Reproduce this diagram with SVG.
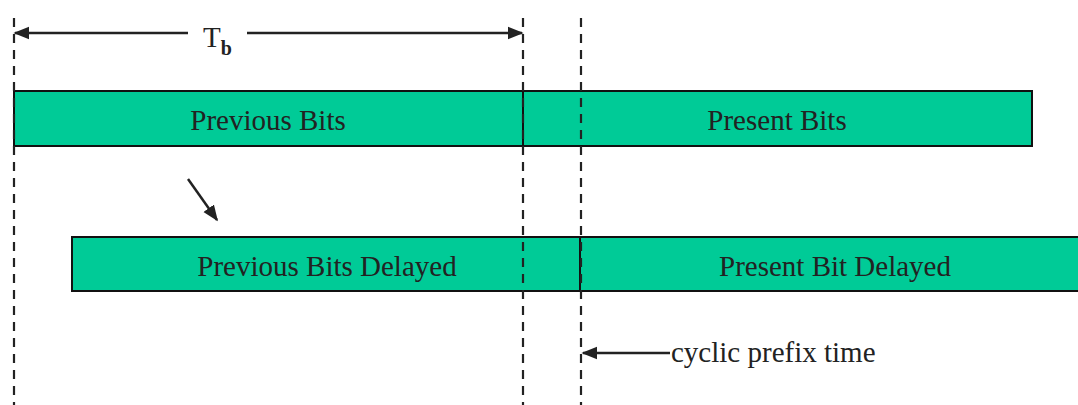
<svg xmlns="http://www.w3.org/2000/svg" width="1078" height="405" viewBox="0 0 1078 405">
<style>
.bar{fill:#00CB97;stroke:#111;stroke-width:2}
.div{stroke:#111;stroke-width:2}
.dash{stroke:#222;stroke-width:2.2;stroke-dasharray:9 7;fill:none}
.arr{stroke:#222;stroke-width:2.5;fill:none}
.lbl{font-family:"Liberation Serif",serif;font-size:29px;fill:#222;text-anchor:middle}
.t{font-family:"Liberation Serif",serif;font-size:29px;fill:#222}
</style>
<defs>
<marker id="ah2" viewBox="0 0 10 10" refX="9" refY="5" markerWidth="16" markerHeight="16" markerUnits="userSpaceOnUse" orient="auto">
<path d="M0,1 L10,5 L0,9 z" fill="#222"/>
</marker>
</defs>
<g id="top-bar">
<rect class="bar" x="14" y="91" width="1018" height="55"/>
<line class="div" x1="523" y1="91" x2="523" y2="146"/>
<text class="lbl" x="268" y="130">Previous Bits</text>
<text class="lbl" x="777" y="130">Present Bits</text>
</g>
<g id="bottom-bar">
<rect class="bar" x="72" y="237" width="1010" height="54"/>
<line class="div" x1="580" y1="237" x2="580" y2="291"/>
<text class="lbl" x="327" y="276">Previous Bits Delayed</text>
<text class="lbl" x="835" y="276">Present Bit Delayed</text>
</g>
<g id="connectors">
<line class="dash" x1="14" y1="18" x2="14" y2="405"/>
<line class="dash" x1="523" y1="18" x2="523" y2="405"/>
<line class="dash" x1="581" y1="18" x2="581" y2="405"/>
<line class="arr" x1="188" y1="33" x2="15" y2="33" marker-end="url(#ah2)"/>
<line class="arr" x1="247" y1="33" x2="522" y2="33" marker-end="url(#ah2)"/>
<line class="arr" x1="188" y1="179" x2="217" y2="220" marker-end="url(#ah2)"/>
<line class="arr" x1="670" y1="353" x2="583" y2="353" marker-end="url(#ah2)"/>
</g>
<g id="labels">
<text class="t" x="203" y="47">T<tspan font-size="20" font-weight="bold" dy="8">b</tspan></text>
<text class="t" x="671" y="362">cyclic prefix time</text>
</g>
</svg>
